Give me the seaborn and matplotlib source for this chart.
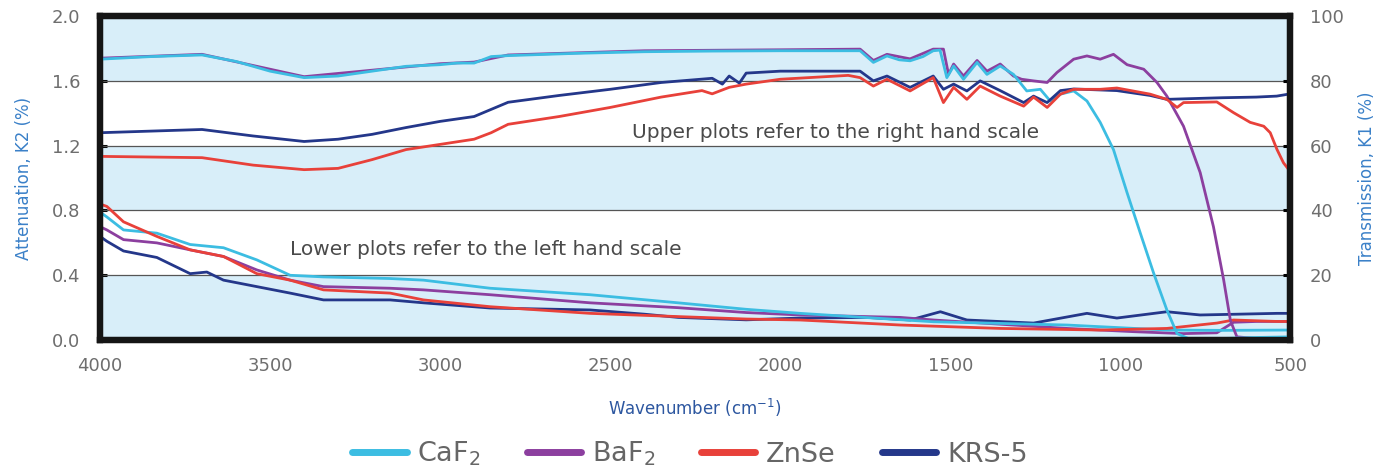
import matplotlib
matplotlib.use("Agg")
import matplotlib.pyplot as plt
from matplotlib.lines import Line2D
import seaborn as sns
import pandas as pd

# ---------------- data ----------------
materials = ["CaF$_2$", "BaF$_2$", "ZnSe", "KRS-5"]
colors = ["#3cbde2", "#8c3f9f", "#e8413a", "#24378a"]

# Transmission K1 (%) - right hand scale (upper plots)
caf2_t_wn = [4000, 3850, 3700, 3600, 3500, 3400, 3300, 3200, 3100, 3000, 2950, 2900, 2850, 2800, 2600, 2400, 2200, 2000,
             1765, 1726, 1686, 1650, 1618, 1580, 1550, 1530, 1510, 1490, 1461, 1421, 1392, 1353, 1314, 1275, 1235, 1206,
             1176, 1137, 1098, 1059, 1020, 980, 941, 902, 863, 833, 800, 700, 600, 500]
caf2_t = [86.7, 87.5, 88.0, 86.0, 83.0, 81.0, 81.5, 83.0, 84.5, 85.0, 85.5, 85.5, 87.5, 87.8, 88.5, 89.0, 89.2, 89.3,
          89.3, 85.7, 87.7, 86.5, 86.2, 87.5, 89.3, 89.5, 81.0, 84.6, 80.5, 85.7, 82.0, 84.6, 82.0, 76.9, 77.4, 73.8,
          75.9, 76.9, 73.8, 67.2, 58.8, 45.5, 33.0, 20.7, 9.3, 2.0, 0.5, 0.5, 0.8, 1.0]

baf2_t_wn = [4000, 3700, 3400, 3000, 2900, 2800, 2400, 2000, 1765, 1726, 1686, 1618, 1550, 1520, 1505, 1490, 1461, 1421,
             1392, 1353, 1314, 1290, 1255, 1215, 1186, 1137, 1098, 1059, 1020, 980, 931, 892, 863, 814, 765, 726, 696,
             676, 657, 600, 500]
baf2_t = [87.0, 88.2, 81.3, 85.3, 85.8, 88.0, 89.3, 89.6, 89.8, 86.3, 88.2, 86.8, 89.8, 89.8, 82.0, 85.2, 81.5, 86.3,
          83.0, 85.2, 81.5, 80.5, 80.0, 79.5, 82.6, 86.7, 87.7, 86.7, 88.2, 85.0, 83.6, 79.5, 75.3, 66.0, 51.7, 35.0, 18.6,
          6.0, 1.0, 0.5, 0.5]

znse_t_wn = [4000, 3850, 3700, 3550, 3400, 3300, 3200, 3100, 3000, 2900, 2850, 2800, 2650, 2500, 2350, 2230, 2200, 2150,
             2100, 2000, 1800, 1765, 1726, 1686, 1618, 1550, 1520, 1490, 1451, 1412, 1353, 1284, 1255, 1215, 1176, 1137,
             1059, 1010, 912, 863, 833, 814, 716, 667, 618, 578, 559, 539, 520, 500]
znse_t = [56.7, 56.5, 56.3, 54.0, 52.6, 53.0, 55.7, 58.8, 60.4, 62.0, 64.0, 66.6, 69.0, 71.8, 75.0, 77.0, 76.0, 78.0,
          79.0, 80.5, 81.7, 81.0, 78.4, 80.5, 76.9, 81.0, 73.3, 78.0, 74.3, 78.4, 75.3, 72.2, 75.0, 71.8, 75.9, 77.4,
          77.4, 77.8, 75.9, 74.3, 71.8, 73.3, 73.5, 70.2, 67.2, 66.0, 64.0, 58.8, 54.7, 52.0]

krs5_t_wn = [4000, 3850, 3700, 3550, 3400, 3300, 3200, 3100, 3000, 2900, 2800, 2650, 2500, 2350, 2200, 2170, 2150, 2120,
             2100, 2000, 1765, 1726, 1686, 1618, 1550, 1520, 1490, 1451, 1412, 1353, 1284, 1255, 1215, 1176, 1137, 1059,
             1010, 912, 863, 800, 700, 600, 540, 500]
krs5_t = [64.0, 64.5, 65.0, 63.0, 61.3, 62.0, 63.5, 65.6, 67.5, 69.0, 73.4, 75.5, 77.4, 79.5, 80.8, 79.0, 81.5, 79.3,
          82.4, 83.0, 83.0, 80.0, 81.5, 78.0, 81.5, 77.4, 79.0, 76.9, 80.0, 77.0, 73.3, 75.3, 73.3, 77.0, 77.5, 77.2,
          77.0, 75.5, 74.3, 74.5, 74.8, 75.0, 75.3, 76.0]

# Attenuation K2 (%) - left hand scale (lower plots)
caf2_a_wn = [4000, 3980, 3931, 3833, 3735, 3637, 3539, 3441, 3343, 3147, 3049, 2853, 2559, 2300, 2100, 1941, 1549, 1157,
             863, 700, 500]
caf2_a = [0.79, 0.76, 0.68, 0.66, 0.59, 0.57, 0.495, 0.40, 0.39, 0.38, 0.37, 0.32, 0.28, 0.23, 0.19, 0.165, 0.113, 0.093,
          0.062, 0.06, 0.062]

baf2_a_wn = [4000, 3980, 3931, 3833, 3735, 3637, 3539, 3441, 3343, 3147, 3049, 2853, 2559, 2300, 2100, 1941, 1647, 1549,
             1157, 961, 814, 716, 667, 600, 500]
baf2_a = [0.70, 0.68, 0.62, 0.60, 0.557, 0.516, 0.433, 0.37, 0.33, 0.32, 0.31, 0.28, 0.23, 0.20, 0.17, 0.155, 0.14, 0.124,
          0.072, 0.052, 0.04, 0.045, 0.11, 0.115, 0.115]

znse_a_wn = [4000, 3980, 3931, 3833, 3735, 3637, 3539, 3441, 3343, 3147, 3049, 2853, 2559, 2300, 2100, 1941, 1647, 1353,
             1059, 863, 716, 667, 539, 500]
znse_a = [0.84, 0.825, 0.73, 0.64, 0.557, 0.516, 0.41, 0.37, 0.31, 0.29, 0.248, 0.206, 0.165, 0.145, 0.13, 0.124, 0.093,
          0.072, 0.062, 0.072, 0.105, 0.124, 0.115, 0.115]

krs5_a_wn = [4000, 3980, 3931, 3833, 3735, 3686, 3637, 3539, 3441, 3343, 3147, 3049, 2853, 2559, 2400, 2300, 2100, 1941,
             1745, 1618, 1529, 1451, 1255, 1098, 1010, 863, 765, 539, 500]
krs5_a = [0.64, 0.61, 0.55, 0.51, 0.41, 0.42, 0.37, 0.33, 0.29, 0.248, 0.248, 0.23, 0.198, 0.186, 0.16, 0.14, 0.125, 0.136,
          0.14, 0.124, 0.175, 0.124, 0.105, 0.165, 0.136, 0.175, 0.155, 0.165, 0.165]

left_ticks = [0.0, 0.4, 0.8, 1.2, 1.6, 2.0]
right_ticks = [0, 20, 40, 60, 80, 100]
x_ticks = [4000, 3500, 3000, 2500, 2000, 1500, 1000, 500]

# ---------------- style ----------------
sns.set_theme(style="white")
plt.rcParams["font.family"] = ["DejaVu Sans"]

fig = plt.figure(figsize=(13.8, 4.73), dpi=100)
ax = fig.add_axes([0.0725, 0.281, 0.8625, 0.685])
ax2 = ax.twinx()

band = "#d8eef9"
for lo, hi in [(0.0, 0.4), (0.8, 1.2), (1.6, 2.0)]:
    ax.axhspan(lo, hi, color=band, zorder=0, lw=0)
for y in [0.4, 0.8, 1.2, 1.6]:
    ax.axhline(y, color="#555555", lw=0.9, zorder=1)

lw = 2.0
att = [(caf2_a_wn, caf2_a), (baf2_a_wn, baf2_a), (znse_a_wn, znse_a), (krs5_a_wn, krs5_a)]
tra = [(caf2_t_wn, caf2_t), (baf2_t_wn, baf2_t), (znse_t_wn, znse_t), (krs5_t_wn, krs5_t)]

for i in [3, 1, 0, 2]:  # KRS-5, BaF2, CaF2, ZnSe
    wn, v = att[i]
    df = pd.DataFrame({"wn": wn, "v": v})
    sns.lineplot(data=df, x="wn", y="v", ax=ax, color=colors[i], lw=lw, estimator=None, sort=False, legend=False)
for i in [1, 0, 3, 2]:
    wn, v = tra[i]
    df = pd.DataFrame({"wn": wn, "v": v})
    sns.lineplot(data=df, x="wn", y="v", ax=ax2, color=colors[i], lw=lw, estimator=None, sort=False, legend=False)

ax.set_xlim(4000, 500)
ax.set_ylim(0, 2.0)
ax2.set_ylim(0, 100)
ax.set_xticks(x_ticks)
ax.set_xticklabels([str(t) for t in x_ticks])
ax.set_yticks(left_ticks)
ax.set_yticklabels([f"{t:.1f}" for t in left_ticks])
ax2.set_yticks(right_ticks)
ax2.set_yticklabels([str(t) for t in right_ticks])

tick_col = "#6e6e6e"
ax.tick_params(axis="x", direction="in", length=5, width=2.2, color="black", labelsize=13, labelcolor=tick_col, pad=12)
ax.tick_params(axis="y", direction="in", length=5, width=2.2, color="black", labelsize=13, labelcolor=tick_col, pad=14)
ax2.tick_params(axis="y", direction="in", length=5, width=2.2, color="black", labelsize=13, labelcolor=tick_col, pad=14)

for a in (ax, ax2):
    for s in a.spines.values():
        s.set_visible(True)
        s.set_color("#151515")
        s.set_linewidth(4.5)

ax.set_xlabel("Wavenumber (cm$^{-1}$)", color="#2d57a0", fontsize=12, labelpad=16)
ax.set_ylabel("Attenuation, K2 (%)", color="#3a80c8", fontsize=12, labelpad=14)
ax2.set_ylabel("Transmission, K1 (%)", color="#3a80c8", fontsize=12, labelpad=10)

ax.text(2435, 1.28, "Upper plots refer to the right hand scale", fontsize=14.5, color="#4a4a4a", va="center", ha="left", zorder=5)
ax.text(3441, 0.557, "Lower plots refer to the left hand scale", fontsize=14.5, color="#4a4a4a", va="center", ha="left", zorder=5)

handles = [Line2D([0], [0], color=c, lw=5) for c in colors]
fig.legend(handles, materials, loc="center", bbox_to_anchor=(0.5, 0.04), ncol=4, frameon=False,
           fontsize=19.5, handlelength=2.0, handletextpad=0.4, columnspacing=1.7, labelcolor="#666666")

fig.savefig("out.png", dpi=100)
